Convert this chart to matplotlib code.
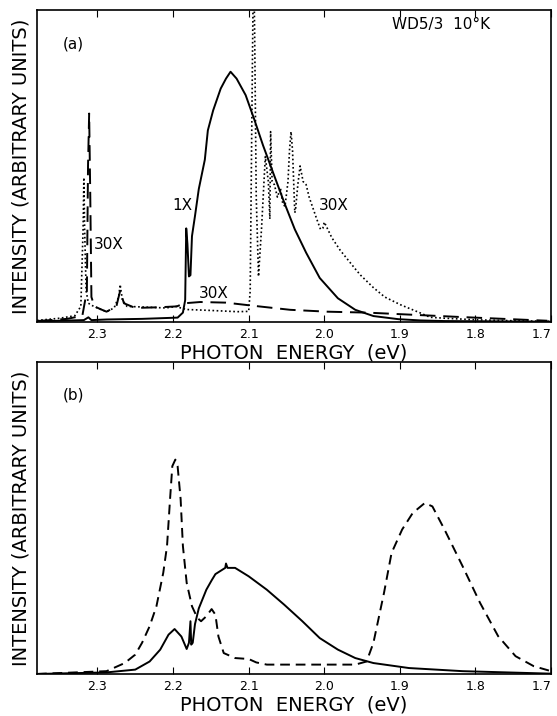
import numpy as np
import matplotlib.pyplot as plt

# ---- panel (a) ----
ea_solid = [2.38, 2.35, 2.318, 2.312, 2.308, 2.288, 2.241, 2.194, 2.187, 2.184,
            2.1826, 2.181, 2.179, 2.177, 2.175, 2.171, 2.166, 2.158, 2.154, 2.147,
            2.137, 2.130, 2.124, 2.116, 2.104, 2.093, 2.081, 2.067, 2.053, 2.039,
            2.024, 2.006, 1.982, 1.959, 1.935, 1.902, 1.873, 1.841, 1.70]
ia_solid = [0.002, 0.004, 0.006, 0.015, 0.006, 0.008, 0.010, 0.014, 0.03, 0.07,
            0.30, 0.25, 0.146, 0.15, 0.275, 0.34, 0.426, 0.52, 0.614, 0.678,
            0.748, 0.78, 0.802, 0.78, 0.727, 0.652, 0.566, 0.474, 0.383, 0.297,
            0.222, 0.141, 0.076, 0.039, 0.019, 0.009, 0.005, 0.003, 0.001]

ea_dash = [2.38, 2.34, 2.32, 2.314, 2.3125, 2.311, 2.3095, 2.308, 2.304, 2.295,
           2.288, 2.275, 2.270, 2.265, 2.25, 2.22, 2.195, 2.185, 2.164, 2.13,
           2.094, 2.045, 1.996, 1.943, 1.908, 1.82, 1.705]
ia_dash = [0.003, 0.01, 0.02, 0.1, 0.5, 0.668, 0.4, 0.08, 0.05, 0.04,
           0.033, 0.05, 0.10, 0.06, 0.045, 0.047, 0.05, 0.06, 0.064, 0.062,
           0.052, 0.039, 0.033, 0.03, 0.026, 0.016, 0.004]

ea_dot = [2.38, 2.35, 2.33, 2.322, 2.319, 2.318, 2.317, 2.315, 2.312, 2.305,
          2.295, 2.288, 2.278, 2.272, 2.270, 2.267, 2.261, 2.24, 2.21, 2.195,
          2.19, 2.182, 2.15, 2.115, 2.10, 2.098, 2.096, 2.0935, 2.092, 2.090,
          2.087, 2.083, 2.078, 2.074, 2.072, 2.071, 2.069, 2.066, 2.062, 2.058,
          2.055, 2.052, 2.048, 2.046, 2.044, 2.042, 2.039, 2.038, 2.035, 2.032,
          2.028, 2.024, 2.020, 2.01, 2.005, 2.002, 2.0, 1.99, 1.979, 1.959,
          1.952, 1.935, 1.92, 1.899, 1.873, 1.86, 1.84, 1.8, 1.75, 1.70]
ia_dot = [0.005, 0.012, 0.02, 0.05, 0.30, 0.463, 0.3, 0.1, 0.06, 0.05,
          0.04, 0.033, 0.045, 0.08, 0.12, 0.07, 0.05, 0.048, 0.045, 0.05,
          0.045, 0.04, 0.037, 0.033, 0.034, 0.1, 0.6, 1.2, 0.9, 0.4,
          0.146, 0.3, 0.53, 0.45, 0.33, 0.61, 0.45, 0.44, 0.40, 0.43,
          0.38, 0.37, 0.45, 0.55, 0.61, 0.55, 0.35, 0.36, 0.44, 0.50,
          0.45, 0.44, 0.40, 0.33, 0.297, 0.30, 0.32, 0.27, 0.23, 0.17,
          0.15, 0.11, 0.08, 0.055, 0.029, 0.015, 0.012, 0.007, 0.004, 0.002]

# ---- panel (b) ----
eb_solid = [2.38, 2.288, 2.25, 2.231, 2.217, 2.206, 2.198, 2.189, 2.182, 2.179,
            2.177, 2.176, 2.174, 2.171, 2.166, 2.156, 2.149, 2.144, 2.131, 2.130,
            2.128, 2.118, 2.10, 2.076, 2.053, 2.029, 2.006, 1.982, 1.959, 1.935,
            1.888, 1.817, 1.70]
ib_solid = [0.0, 0.005, 0.014, 0.04, 0.078, 0.126, 0.144, 0.12, 0.08, 0.10,
            0.169, 0.094, 0.10, 0.16, 0.21, 0.27, 0.30, 0.32, 0.34, 0.354,
            0.34, 0.34, 0.313, 0.27, 0.222, 0.169, 0.115, 0.078, 0.051, 0.035,
            0.019, 0.009, 0.001]

eb_dash = [2.38, 2.288, 2.264, 2.25, 2.241, 2.231, 2.222, 2.213, 2.208, 2.204,
           2.201, 2.197, 2.194, 2.190, 2.187, 2.182, 2.175, 2.168, 2.163, 2.156,
           2.149, 2.144, 2.140, 2.133, 2.118, 2.10, 2.090, 2.076, 1.959, 1.944,
           1.935, 1.921, 1.911, 1.897, 1.883, 1.867, 1.857, 1.841, 1.817, 1.794,
           1.770, 1.747, 1.723, 1.70]
ib_dash = [0.0, 0.009, 0.035, 0.062, 0.10, 0.153, 0.217, 0.324, 0.41, 0.56,
           0.666, 0.687, 0.666, 0.56, 0.41, 0.292, 0.217, 0.18, 0.169, 0.185,
           0.208, 0.19, 0.12, 0.067, 0.051, 0.048, 0.037, 0.03, 0.03, 0.04,
           0.10, 0.26, 0.388, 0.463, 0.516, 0.548, 0.537, 0.463, 0.345, 0.228,
           0.121, 0.057, 0.025, 0.009]

ticks = [2.3, 2.2, 2.1, 2.0, 1.9, 1.8, 1.7]
tick_labels = ['2.3', '2.2', '2.1', '2.0', '1.9', '1.8', '1.7']

fig = plt.figure(figsize=(5.57, 7.16), dpi=100)
ax1 = fig.add_axes([0.0664, 0.5503, 0.923, 0.4358])
ax2 = fig.add_axes([0.0664, 0.0587, 0.923, 0.4358])

ax1.plot(ea_solid, ia_solid, color='black', lw=1.4)
ax1.plot(ea_dash, ia_dash, color='black', lw=1.4, ls=(0, (8, 4)))
ax1.plot(ea_dot, ia_dot, color='black', lw=1.2, ls=(0, (1, 1.5)))

ax2.plot(eb_solid, ib_solid, color='black', lw=1.4)
ax2.plot(eb_dash, ib_dash, color='black', lw=1.4, ls=(0, (5, 3)))

for ax in (ax1, ax2):
    ax.set_xlim(2.38, 1.70)
    ax.set_ylim(0, 1)
    ax.set_xticks(ticks)
    ax.set_xticklabels(tick_labels, fontsize=9)
    ax.get_xticklabels()[-1].set_ha('right')
    ax.set_yticks([])
    ax.tick_params(axis='x', direction='in', top=True, length=5, pad=4)
    for s in ax.spines.values():
        s.set_linewidth(1.2)
    ax.set_xlabel('PHOTON  ENERGY  (eV)', fontsize=14, labelpad=2)
    ax.set_ylabel('INTENSITY (ARBITRARY UNITS)', fontsize=14, labelpad=5)

ax1.text(2.332, 0.89, '(a)', fontsize=11, ha='center', va='center')
ax1.text(1.845, 0.952, 'WD5/3  10°K', fontsize=11, ha='center', va='center')
ax1.text(2.305, 0.248, '30X', fontsize=11, ha='left', va='center')
ax1.text(2.188, 0.374, '1X', fontsize=11, ha='center', va='center')
ax1.text(1.987, 0.374, '30X', fontsize=11, ha='center', va='center')
ax1.text(2.146, 0.09, '30X', fontsize=11, ha='center', va='center')
ax2.text(2.332, 0.894, '(b)', fontsize=11, ha='center', va='center')

fig.savefig('out.png', dpi=100)
